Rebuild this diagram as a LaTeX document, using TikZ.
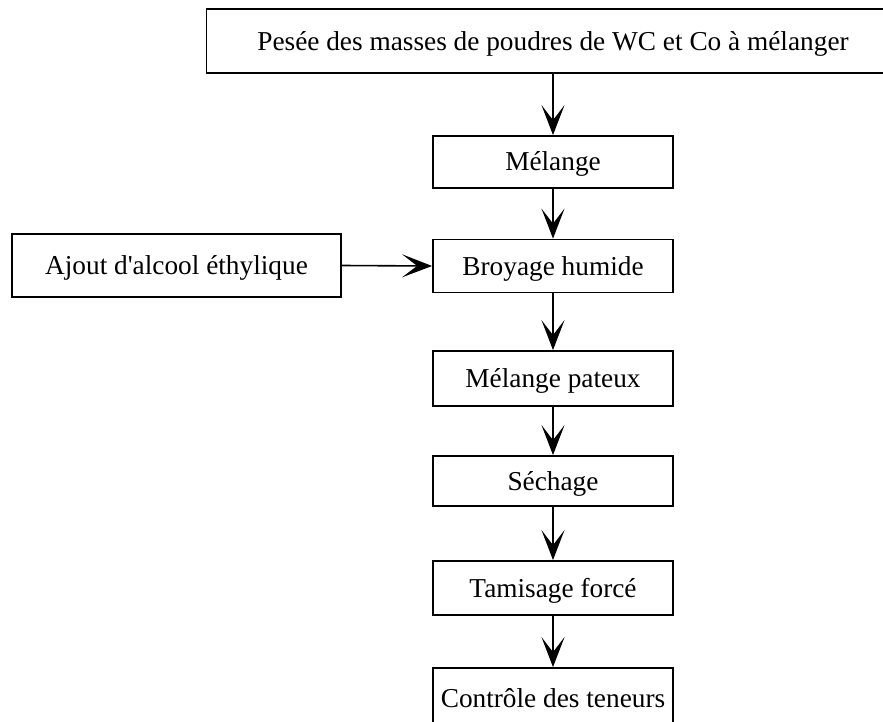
\documentclass[tikz,border=0pt]{standalone}
\usepackage{fontspec}
\setmainfont{Liberation Serif}[Ligatures=TeXOff]
\usetikzlibrary{arrows.meta}
\begin{document}
\begin{tikzpicture}[x=1pt,y=-1pt,
  boxnode/.style={draw=black,line width=1.8pt,fill=white,inner sep=0pt,
    text height=18pt,text depth=0pt,
    font=\fontsize{27.3}{31}\selectfont,anchor=center},
  flow/.style={line width=1.6pt,-{Stealth[length=30pt,width=23pt,inset=15pt]}}]
\useasboundingbox (0,0) rectangle (883,722);
\begin{scope}
\clip (0,0) rectangle (883,722);
\node[boxnode,minimum width=693pt,minimum height=63.8pt] (pesee) at (553,41.3) {Pesée des masses de poudres de WC et Co à mélanger};
\node[boxnode,minimum width=240pt,minimum height=52pt] (melange) at (553,162) {Mélange};
\node[boxnode,minimum width=240pt,minimum height=53pt] (broyage) at (553,266) {Broyage humide};
\node[boxnode,minimum width=328.4pt,minimum height=62.7pt] (ajout) at (176.5,265.5) {Ajout d'alcool éthylique};
\node[boxnode,minimum width=240pt,minimum height=55pt] (pateux) at (553,378.5) {Mélange pateux};
\node[boxnode,minimum width=240pt,minimum height=50pt] (sechage) at (553,481) {Séchage};
\node[boxnode,minimum width=240pt,minimum height=54pt] (tamisage) at (553,588) {Tamisage forcé};
\node[boxnode,minimum width=240pt,minimum height=60pt] (controle) at (553,698) {Contrôle des teneurs};
\draw[flow] (pesee.south) -- (melange.north);
\draw[flow] (melange.south) -- (broyage.north);
\draw[flow] (ajout.east) -- (broyage.west);
\draw[flow] (broyage.south) -- (pateux.north);
\draw[flow] (pateux.south) -- (sechage.north);
\draw[flow] (sechage.south) -- (tamisage.north);
\draw[flow] (tamisage.south) -- (controle.north);
\end{scope}
\end{tikzpicture}
\end{document}
